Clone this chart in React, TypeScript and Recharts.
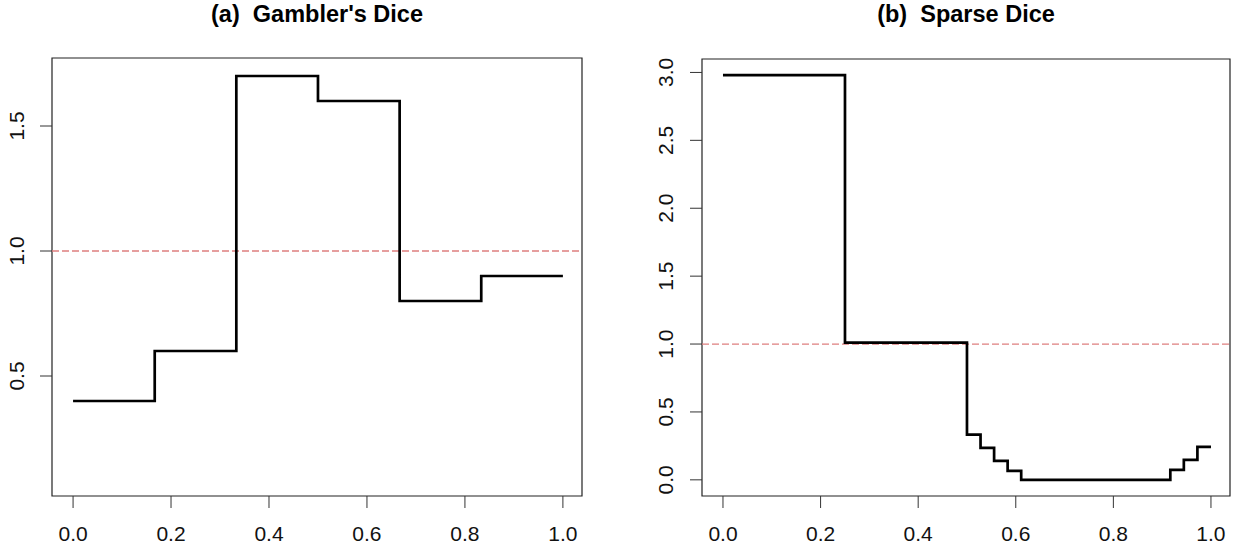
import React from "react";
import {
  LineChart,
  Line,
  XAxis,
  YAxis,
  ReferenceLine,
  ReferenceArea,
} from "recharts";

// (a) Gambler's Dice: step heights on sixths of [0, 1]
const gamblerX = [0, 0.1667, 0.3333, 0.5, 0.6667, 0.8333, 1];
const gamblerY = [0.4, 0.6, 1.7, 1.6, 0.8, 0.9, 0.9];

// (b) Sparse Dice
const sparseX = [0, 0.25, 0.5, 0.5278, 0.5556, 0.5833, 0.6111, 0.9167, 0.9444, 0.9722, 1];
const sparseY = [2.98, 1.01, 0.333, 0.235, 0.14, 0.066, 0, 0.074, 0.147, 0.243, 0.243];

const xTicks = [0, 0.2, 0.4, 0.6, 0.8, 1];
const gamblerYTicks = [0.5, 1, 1.5];
const sparseYTicks = [0, 0.5, 1, 1.5, 2, 2.5, 3];

const titles = ["(a)  Gambler's Dice", "(b)  Sparse Dice"];

const FONT = "'Liberation Sans', Arial, sans-serif";

const toRows = (xs: number[], ys: number[]) => xs.map((x, i) => ({ x, y: ys[i] }));

function XTick(props: any) {
  const { x, y, payload } = props;
  return (
    <text
      x={x}
      y={y + 25}
      textAnchor="middle"
      dominantBaseline="central"
      fontSize={21}
      fill="#111"
      fontFamily={FONT}
    >
      {payload.value.toFixed(1)}
    </text>
  );
}

function YTick(props: any) {
  const { x, y, payload } = props;
  const cx = x - 24;
  return (
    <text
      x={cx}
      y={y}
      transform={`rotate(-90, ${cx}, ${y})`}
      textAnchor="middle"
      dominantBaseline="central"
      fontSize={21}
      fill="#111"
      fontFamily={FONT}
    >
      {payload.value.toFixed(1)}
    </text>
  );
}

interface StepPanelProps {
  rows: { x: number; y: number }[];
  yDomain: [number, number];
  yTicks: number[];
  yAxisWidth: number;
  rightMargin: number;
  top: number;
}

const X_DOMAIN: [number, number] = [-0.043, 1.039];

function StepPanel({ rows, yDomain, yTicks, yAxisWidth, rightMargin, top }: StepPanelProps) {
  return (
    <LineChart
      width={622}
      height={549}
      data={rows}
      margin={{ top, right: rightMargin, left: 0, bottom: 0 }}
    >
      <XAxis
        dataKey="x"
        type="number"
        domain={X_DOMAIN}
        allowDataOverflow
        ticks={xTicks}
        axisLine={false}
        tickLine={{ stroke: "#333" }}
        tickSize={12}
        tickMargin={0}
        height={53}
        tick={<XTick />}
        interval={0}
      />
      <YAxis
        type="number"
        domain={yDomain}
        allowDataOverflow
        ticks={yTicks}
        axisLine={false}
        tickLine={{ stroke: "#333" }}
        tickSize={12}
        tickMargin={0}
        width={yAxisWidth}
        tick={<YTick />}
        interval={0}
      />
      <ReferenceArea
        x1={X_DOMAIN[0]}
        x2={X_DOMAIN[1]}
        y1={yDomain[0]}
        y2={yDomain[1]}
        fill="none"
        stroke="#222"
        strokeWidth={1.2}
        ifOverflow="visible"
      />
      <ReferenceLine y={1} stroke="#de7f7f" strokeWidth={1.3} strokeDasharray="7 3" />
      <Line
        type="stepAfter"
        dataKey="y"
        stroke="#000"
        strokeWidth={2.7}
        dot={false}
        isAnimationActive={false}
      />
    </LineChart>
  );
}

export default function App() {
  return (
    <div
      style={{
        position: "absolute",
        left: 0,
        top: 0,
        width: 1244,
        height: 549,
        background: "#fff",
        overflow: "hidden",
      }}
    >
      <div style={{ position: "absolute", left: 0, top: 0 }}>
        <StepPanel
          rows={toRows(gamblerX, gamblerY)}
          yDomain={[0.02, 1.772]}
          yTicks={gamblerYTicks}
          yAxisWidth={52}
          rightMargin={40}
          top={58}
        />
      </div>
      <div style={{ position: "absolute", left: 622, top: 0 }}>
        <StepPanel
          rows={toRows(sparseX, sparseY)}
          yDomain={[-0.119, 3.099]}
          yTicks={sparseYTicks}
          yAxisWidth={80}
          rightMargin={14}
          top={59}
        />
      </div>
      <svg
        width={1244}
        height={34}
        style={{ position: "absolute", left: 0, top: 0 }}
      >
        {[317, 966].map((cx, i) => (
          <text
            key={i}
            x={cx}
            y={22}
            textAnchor="middle"
            fontFamily={FONT}
            fontWeight="bold"
            fontSize={23.5}
            fill="#000"
            style={{ whiteSpace: "pre" }}
          >
            {titles[i]}
          </text>
        ))}
      </svg>
    </div>
  );
}
